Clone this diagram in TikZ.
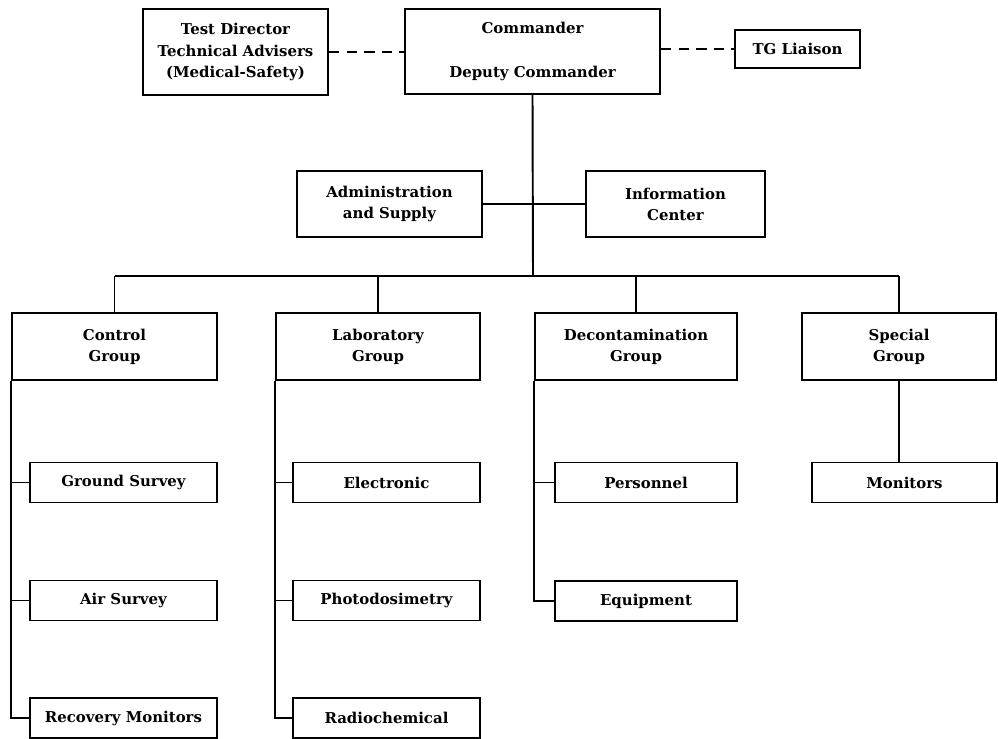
\documentclass[tikz,border=0pt]{standalone}
\usepackage{fontspec}
\setmainfont{DejaVu Serif}
\usepackage{tikz}

\tikzset{
  unit/.style={draw, line width=1.1pt, align=center, inner sep=2pt,
    font=\fontsize{8.5}{12}\selectfont\bfseries},
  groupbox/.style={unit, minimum height=1.34cm},
  subbox/.style={unit, minimum height=0.8cm},
  link/.style={line width=1.1pt},
  liaisonline/.style={line width=1.1pt, dash pattern=on 6pt off 4pt},
}

\begin{document}
\begin{tikzpicture}[x=0.02cm, y=-0.02cm]
    \useasboundingbox (0,0) rectangle (998,739);

    % Command level
    \node[unit, minimum width=3.7cm, minimum height=1.72cm] (tdir) at (235.5,52)
        {Test Director\\Technical Advisers\\(Medical-Safety)};
    \node[unit, minimum width=5.1cm, minimum height=1.7cm] (cmdr) at (532.5,51.5)
        {Commander\\[13pt]Deputy Commander};
    \node[unit, minimum width=2.5cm, minimum height=0.76cm] (liaison) at (797.5,49) {TG Liaison};
    \draw[liaisonline] (tdir.east) -- (cmdr.west |- tdir.east);
    \draw[liaisonline] (cmdr.east |- liaison.west) -- (liaison.west);

    % Staff
    \node[unit, minimum width=3.7cm, minimum height=1.32cm] (admin) at (389.5,204)
        {Administration\\and Supply};
    \node[unit, minimum width=3.58cm, minimum height=1.32cm] (info) at (675.5,204)
        {Information\\Center};
    \coordinate (bus) at (533,276);
    \draw[link] (cmdr.south) -- (bus);
    \draw[link] (admin.east) -- (info.west);

    % Groups
    \node[groupbox, minimum width=4.1cm] (ctrl) at (114.5,346.5) {Control\\Group};
    \node[groupbox, minimum width=4.08cm] (lab) at (378,346.5) {Laboratory\\Group};
    \node[groupbox, minimum width=4.04cm] (decon) at (636,346.5) {Decontamination\\Group};
    \node[groupbox, minimum width=3.88cm] (spec) at (899,346.5) {Special\\Group};
    \draw[link] (ctrl.north |- bus) -- (spec.north |- bus);
    \foreach \g in {ctrl,lab,decon,spec}
        \draw[link] (\g.north |- bus) -- (\g.north);

    % Sections
    \node[subbox, minimum width=3.74cm] (gsurv) at (123.5,482.5) {Ground Survey};
    \node[subbox, minimum width=3.74cm] (asurv) at (123.5,600.5) {Air Survey};
    \node[subbox, minimum width=3.74cm] (recov) at (123.5,718) {Recovery Monitors};
    \node[subbox, minimum width=3.74cm] (elec) at (386.5,482.5) {Electronic};
    \node[subbox, minimum width=3.74cm] (photo) at (386.5,600.5) {Photodosimetry};
    \node[subbox, minimum width=3.74cm] (radio) at (386.5,718) {Radiochemical};
    \node[subbox, minimum width=3.64cm] (pers) at (646,482.5) {Personnel};
    \node[subbox, minimum width=3.64cm] (equip) at (646,601) {Equipment};
    \node[subbox, minimum width=3.7cm] (mon) at (904.5,482.5) {Monitors};

    \draw[link] (ctrl.south west) |- (recov.west);
    \draw[link] (lab.south west) |- (radio.west);
    \draw[link] (decon.south west) |- (equip.west);
    \foreach \g/\s in {ctrl/gsurv,ctrl/asurv,lab/elec,lab/photo,decon/pers}
        \draw[link] (\g.south west |- \s.west) -- (\s.west);
    \draw[link] (spec.south) -- (spec.south |- mon.north);

\end{tikzpicture}
\end{document}
